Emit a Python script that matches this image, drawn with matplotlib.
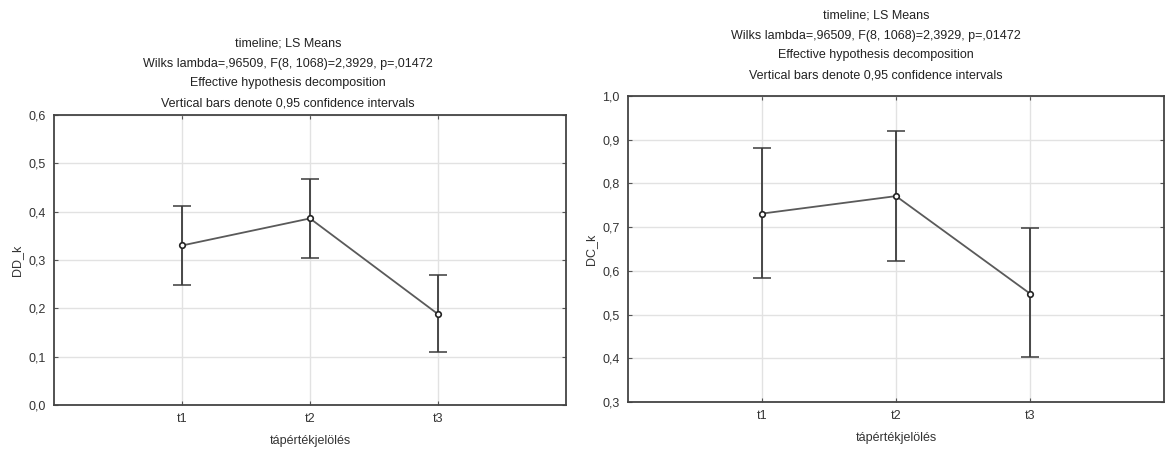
import matplotlib
matplotlib.use("Agg")
import matplotlib.pyplot as plt

plt.rcParams["font.family"] = ["Liberation Sans", "DejaVu Sans"]

# data
categories = ["t1", "t2", "t3"]
dd_mean = [0.330, 0.386, 0.188]
dd_lo = [0.249, 0.305, 0.110]
dd_hi = [0.411, 0.467, 0.269]
dc_mean = [0.731, 0.771, 0.548]
dc_lo = [0.584, 0.622, 0.402]
dc_hi = [0.882, 0.920, 0.699]

title_lines = [
    "timeline; LS Means",
    "Wilks lambda=,96509, F(8, 1068)=2,3929, p=,01472",
    "Effective hypothesis decomposition",
    "Vertical bars denote 0,95 confidence intervals",
]
xlabel = "tápértékjelölés"

W, H = 1166, 450
fig = plt.figure(figsize=(W / 100, H / 100), dpi=100)


def px_axes(x0, y0, x1, y1):
    return fig.add_axes([x0 / W, 1 - y1 / H, (x1 - x0) / W, (y1 - y0) / H])


def panel(ax, mean, lo, hi, ylim, yticks, ylabel):
    xs = range(1, len(categories) + 1)
    yerr = [[m - l for m, l in zip(mean, lo)], [h - m for m, h in zip(mean, hi)]]
    ax.plot(xs, mean, color="#5a5a5a", lw=1.3, zorder=3)
    ax.errorbar(xs, mean, yerr=yerr, fmt="none", ecolor="#3a3a3a", elinewidth=1.3,
                capsize=6.5, capthick=1.1, zorder=4)
    ax.plot(xs, mean, ls="none", marker="o", ms=4, mfc="white", mec="#222222",
            mew=1.2, zorder=5)
    ax.set_xlim(0, len(categories) + 1)
    ax.set_ylim(*ylim)
    ax.set_xticks(list(xs))
    ax.set_xticklabels(categories)
    ax.set_yticks(yticks)
    ax.set_yticklabels([f"{t:.1f}".replace(".", ",") for t in yticks])
    ax.grid(True, color="#e2e2e2", lw=1.0, zorder=0)
    ax.set_axisbelow(True)
    ax.tick_params(direction="in", length=3, top=True, right=True, color="#555555",
                   labelsize=9, labelcolor="#333333", pad=6)
    for s in ax.spines.values():
        s.set_color("#444444")
        s.set_linewidth(1.3)
    ax.set_xlabel(xlabel, fontsize=9, color="#333333", labelpad=7)
    ax.set_ylabel(ylabel, fontsize=9, color="#333333", labelpad=4)


ax1 = px_axes(54, 115, 566, 405)
panel(ax1, dd_mean, dd_lo, dd_hi, (0, 0.6), [0, 0.1, 0.2, 0.3, 0.4, 0.5, 0.6], "DD_k")

ax2 = px_axes(628, 96, 1164, 402)
panel(ax2, dc_mean, dc_lo, dc_hi, (0.3, 1.0), [0.3, 0.4, 0.5, 0.6, 0.7, 0.8, 0.9, 1.0], "DC_k")

for cx, top in [(288, 44), (876, 16)]:
    for i, line in enumerate(title_lines):
        fig.text(cx / W, 1 - (top + 19.7 * i) / H, line, ha="center", va="center",
                 fontsize=9, color="#222222")

fig.savefig("out.png", dpi=100, facecolor="white")
